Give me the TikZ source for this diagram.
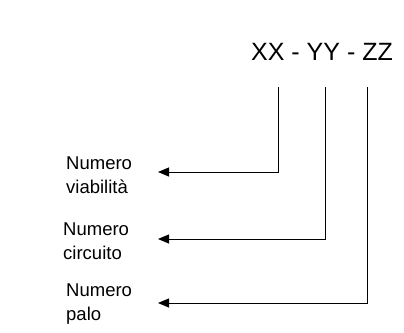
\documentclass[tikz,border=0pt]{standalone}
\usepackage{fontspec}
\setmainfont{Liberation Sans}
\usetikzlibrary{arrows.meta}
\begin{document}
\begin{tikzpicture}[x=1pt, y=-1pt,
    every node/.style={inner sep=0pt},
    codice/.style={font=\fontsize{25}{30}\selectfont},
    etichetta/.style={anchor=west, align=left, font=\fontsize{18.5}{24}\selectfont},
    freccia/.style={draw, line width=1pt, -{Triangle[length=11pt, width=9pt]}}]
        \useasboundingbox (0,0) rectangle (404,332);

        % Codice
        \node[codice] (codice) at (322, 52) {XX - YY - ZZ};

        % Etichette a sinistra
        \node[etichetta] (viab) at (66, 175) {Numero\\viabilità};
        \node[etichetta] (circ) at (63, 241) {Numero\\circuito};
        \node[etichetta] (palo) at (66, 304) {Numero\\palo};

        % Estremi delle linee
        \coordinate (xx) at (278, 87);
        \coordinate (yy) at (325, 87);
        \coordinate (zz) at (367, 87);
        \coordinate (pviab) at (158, 172);
        \coordinate (pcirc) at (158, 239);
        \coordinate (ppalo) at (158, 303);

        % Frecce
        \draw[freccia] (xx) |- (pviab);
        \draw[freccia] (yy) |- (pcirc);
        \draw[freccia] (zz) |- (ppalo);
\end{tikzpicture}
\end{document}
